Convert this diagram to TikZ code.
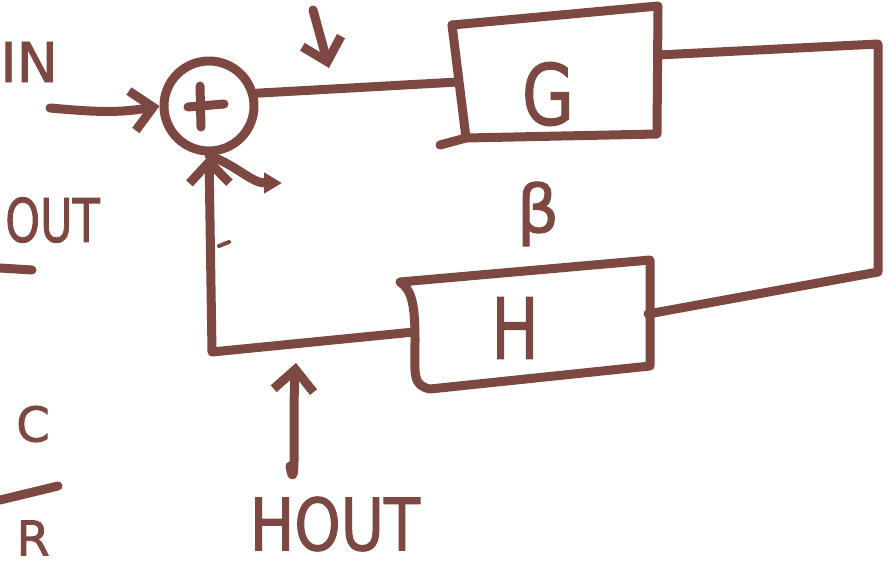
\documentclass[tikz,border=0pt]{standalone}
\usepackage{fontspec}
\setmainfont{DejaVu Sans}
\newfontfamily\handfont[FakeBold=1.6]{DejaVu Sans}
\usetikzlibrary{arrows.meta}
\definecolor{ink}{RGB}{125,72,66}
\newcommand{\hsz}[1]{\handfont\fontsize{#1}{#1}\selectfont}
\begin{document}
\begin{tikzpicture}[x=1pt,y=-1pt,
  inkline/.style={draw=ink,line width=9pt,line cap=round,line join=round},
  lbl/.style={text=ink,inner sep=0pt},
  barb/.style={-{Straight Barb[length=21pt,width=40pt,line width=9pt]}},
  tri/.style={-{Triangle[length=18pt,width=20pt]}}]
\useasboundingbox (0,0) rectangle (888,573);
\clip (0,0) rectangle (888,573);

% summing junction
\node[inkline,circle,minimum size=90pt,inner sep=0pt] (sum) at (209,106) {};
\draw[inkline] (200,86) -- (201,127);
\draw[inkline] (188,107) -- (224,104);

% input
\coordinate (in) at (50,108);
\draw[inkline,barb] (in) to[out=-5,in=190] (sum.west);

% G block
\coordinate (gTL) at (452,25);
\coordinate (gTR) at (658,6);
\coordinate (gBR) at (657,134);
\coordinate (gBL) at (466,138);
\coordinate (gL) at (458,82);
\coordinate (gR) at (658,55);
\draw[inkline] (gTL) -- (gTR) -- (gBR) -- (gBL) -- (440,145);
\draw[inkline] (gTL) -- (gBL);
\node[lbl] (G) at (548,94) {\hsz{84}\scalebox{0.8}[1]{G}};

% forward line
\draw[inkline] (sum.15) -- (gL);
\coordinate (v1) at (313,10);
\coordinate (v2) at (329,68);
\draw[inkline,barb] (v1) -- (v2);

% H block
\coordinate (hTL) at (400,282);
\coordinate (hTR) at (650,260);
\coordinate (hBR) at (650,366);
\coordinate (hBL) at (430,389);
\coordinate (hR) at (648,314);
\coordinate (hL) at (414,332);
\draw[inkline] (hTL) -- (hTR) -- (hBR) -- (hBL)
  .. controls (412,385) and (415,375) .. (415,340)
  .. controls (415,305) and (412,290) .. (hTL);
\node[lbl] (H) at (515,328) {\hsz{84}\scalebox{0.75}[1]{H}};
\node[lbl] (beta) at (538,214) {\hsz{66}β};

% output loop
\coordinate (c1) at (878,44);
\coordinate (c2) at (878,272);
\draw[inkline] (gR) -- (c1) -- (c2) -- (hR);

% feedback
\coordinate (f1) at (212,352);
\draw[inkline,barb] (hL) -- (f1) -- (sum.south);
\draw[inkline,tri] (sum.south) to[out=-20,in=180] (282,183);
\draw[draw=ink,line width=4pt,line cap=round] (219,246) -- (229,242);

% H out arrow
\coordinate (ho1) at (290,466);
\coordinate (ho2) at (296,363);
\draw[inkline,barb] (ho1) to[out=-80,in=-95] (ho2);
\node[lbl] (hout) at (335,524) {\hsz{72}\scalebox{0.82}[1]{HOUT}};

% labels at left edge
\node[lbl,anchor=east] (inlbl) at (58,62) {\hsz{55}IN};
\node[lbl,anchor=east] (outlbl) at (100,220) {\hsz{60}\scalebox{0.74}[1]{OUT}};
\coordinate (u1) at (0,268);
\coordinate (u2) at (32,270);
\draw[inkline] (u1) -- (u2);
\node[lbl,anchor=east] (clbl) at (50,424) {\hsz{48}C};
\coordinate (o1) at (0,500);
\coordinate (o2) at (58,486);
\draw[inkline] (o1) -- (o2);
\node[lbl,anchor=east] (rlbl) at (50,538) {\hsz{48}R};
\end{tikzpicture}
\end{document}
